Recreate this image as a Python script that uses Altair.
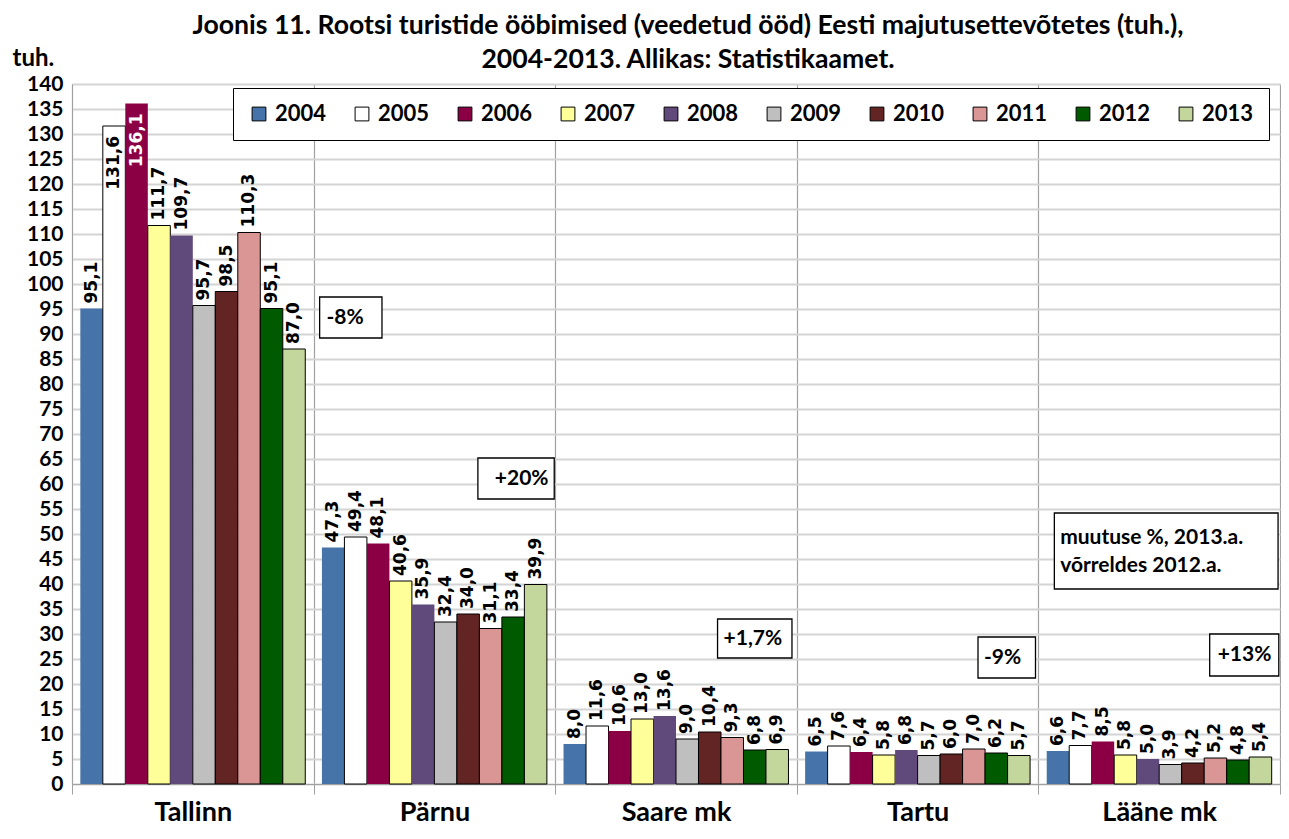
import altair as alt
import pandas as pd

categories = ["Tallinn", "Pärnu", "Saare mk", "Tartu", "Lääne mk"]
years = ["2004", "2005", "2006", "2007", "2008", "2009", "2010", "2011", "2012", "2013"]
tallinn = [95.1, 131.6, 136.1, 111.7, 109.7, 95.7, 98.5, 110.3, 95.1, 87.0]
parnu = [47.3, 49.4, 48.1, 40.6, 35.9, 32.4, 34.0, 31.1, 33.4, 39.9]
saare = [8.0, 11.6, 10.6, 13.0, 13.6, 9.0, 10.4, 9.3, 6.8, 6.9]
tartu = [6.5, 7.6, 6.4, 5.8, 6.8, 5.7, 6.0, 7.0, 6.2, 5.7]
laane = [6.6, 7.7, 8.5, 5.8, 5.0, 3.9, 4.2, 5.2, 4.8, 5.4]
colors = ["#4674A9", "#FFFFFF", "#8B0045", "#FFFF99", "#604A7B",
          "#BFBFBF", "#632523", "#D99694", "#005A00", "#C3D69B"]

note_texts = ["-8%", "+20%", "+1,7%", "-9%", "+13%"]
info_lines = ["muutuse %, 2013.a.", "võrreldes 2012.a."]

# annotation placement (x in category units, y in axis units)
box_x1 = [1.025, 1.680, 2.672, 3.750, 4.709, 4.066]
box_x2 = [1.283, 1.996, 2.980, 3.988, 4.995, 4.992]
box_y1 = [97.4, 65.2, 33.0, 29.4, 30.0, 54.2]
box_y2 = [89.2, 57.0, 25.2, 21.2, 21.6, 39.0]
note_tx = [1.053, 1.750, 2.697, 3.775, 4.742]
note_ty = [93.3, 61.0, 29.1, 25.3, 25.8]
info_tx = [4.090, 4.090]
info_ty = [49.2, 43.6]

rows = []
for cat, vals in zip(categories, [tallinn, parnu, saare, tartu, laane]):
    for yr, v in zip(years, vals):
        rows.append({"koht": cat, "aasta": yr, "v": v})
df = pd.DataFrame(rows)

boxes = pd.DataFrame({"x1": box_x1, "x2": box_x2, "y1": box_y1, "y2": box_y2})
notes = pd.DataFrame({"t": note_texts + info_lines,
                      "x": note_tx + info_tx, "y": note_ty + info_ty})

xscale = alt.Scale(domain=categories, paddingInner=0, paddingOuter=0)
xoscale = alt.Scale(domain=years, paddingInner=0, paddingOuter=0.37)
yscale = alt.Scale(domain=[0, 140], nice=False)

x_enc = alt.X("koht:N", sort=categories, scale=xscale,
              axis=alt.Axis(title=None, tickBand="extent", grid=True,
                            gridColor="#A0A0A0", gridWidth=1.2,
                            domainColor="#A0A0A0", tickColor="#A0A0A0",
                            tickSize=10, labelFontSize=27, labelFontWeight="bold",
                            labelColor="black", labelPadding=5, labelAngle=0))
xo_enc = alt.XOffset("aasta:N", sort=years, scale=xoscale)
y_enc = alt.Y("v:Q", scale=yscale,
              axis=alt.Axis(values=list(range(0, 141, 5)), title="tuh.",
                            titleAngle=0, titleX=-60, titleY=-19,
                            titleAlign="left", titleBaseline="alphabetic",
                            titleFontSize=24, titleFontWeight="bold",
                            titleColor="black", labelOverlap=False,
                            labelFontSize=21, labelFontWeight="bold",
                            labelColor="black", labelPadding=9, ticks=False,
                            gridColor="#D4D4D4", gridWidth=1.8,
                            domainColor="#A0A0A0"))

base = alt.Chart(df).encode(x=x_enc, xOffset=xo_enc, y=y_enc)

bars = base.mark_bar(stroke="black").encode(
    color=alt.Color("aasta:N", sort=years,
                    scale=alt.Scale(domain=years, range=colors),
                    legend=alt.Legend(title=None, orient="none", legendX=161, legendY=4,
                                      direction="horizontal", columns=10,
                                      symbolType="square", symbolSize=190,
                                      symbolStrokeColor="black", symbolStrokeWidth=1,
                                      labelFontSize=22, labelFontWeight="bold",
                                      labelColor="black", labelOffset=5,
                                      columnPadding=24, padding=15,
                                      strokeColor="black", fillColor="white")),
    strokeWidth=alt.condition(
        alt.FieldOneOfPredicate(field="aasta", oneOf=["2004", "2006", "2008"]),
        alt.value(0), alt.value(1)),
)

lab_calc = "replace(format(datum.v, '.1f'), '.', ',')"
labels_out = base.transform_filter("datum.v < 125").transform_calculate(
    lab=lab_calc
).mark_text(angle=270, align="left", baseline="middle", dx=5,
            font="DejaVu Sans", fontSize=17, fontWeight="bold",
            color="black").encode(text="lab:N")

labels_in = base.transform_filter("datum.v >= 125").transform_calculate(
    lab=lab_calc
).mark_text(angle=270, align="right", baseline="middle", dx=-10,
            font="DejaVu Sans", fontSize=17, fontWeight="bold").encode(
    text="lab:N",
    color=alt.condition("datum.aasta == '2006'", alt.value("white"), alt.value("black")),
)

nscale = alt.Scale(domain=[0, 5], nice=False, zero=False)
rects = alt.Chart(boxes).mark_rect(fill="white", stroke="black", strokeWidth=1.3).encode(
    x=alt.X("x1:Q", scale=nscale, axis=None),
    x2="x2:Q",
    y=alt.Y("y1:Q", scale=yscale, axis=None),
    y2="y2:Q",
)
texts = alt.Chart(notes).mark_text(align="left", baseline="middle", fontSize=21,
                                   fontWeight="bold", color="black").encode(
    x=alt.X("x:Q", scale=nscale, axis=None),
    y=alt.Y("y:Q", scale=yscale, axis=None),
    text="t:N",
)

main = alt.layer(bars, labels_out, labels_in)
ann = alt.layer(rects, texts)

chart = alt.layer(main, ann).resolve_scale(x="independent").resolve_axis(
    y="independent"
).properties(
    width=1208, height=700,
    padding={"left": 4, "top": 5, "right": 0, "bottom": 0},
    title=alt.TitleParams(
        ["Joonis 11. Rootsi turistide ööbimised (veedetud ööd) Eesti majutusettevõtetes (tuh.),",
         "2004-2013. Allikas: Statistikaamet."],
        fontSize=26.6, fontWeight="bold", anchor="middle", lineHeight=34,
        offset=-28, color="black", dx=12),
).configure(font="Lato").configure_view(stroke=None)

chart.save("out.html", embed_options={"renderer": "svg", "actions": False})
